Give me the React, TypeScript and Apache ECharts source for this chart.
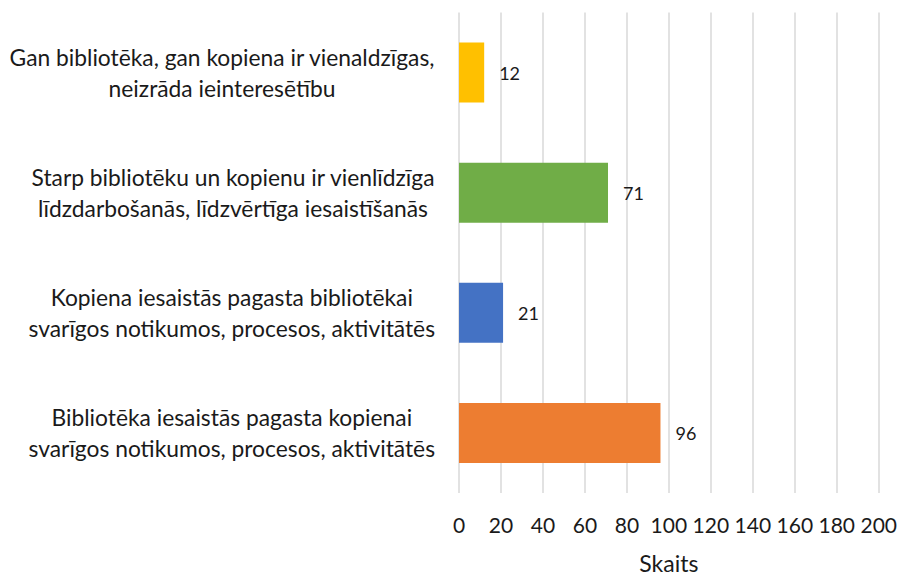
import React, { useEffect, useRef } from "react";
import * as echarts from "echarts";

const categories = [
  "Bibliotēka iesaistās pagasta kopienai\nsvarīgos notikumos, procesos, aktivitātēs",
  "Kopiena iesaistās pagasta bibliotēkai\nsvarīgos notikumos, procesos, aktivitātēs",
  "Starp bibliotēku un kopienu ir vienlīdzīga\nlīdzdarbošanās, līdzvērtīga iesaistīšanās",
  "Gan bibliotēka, gan kopiena ir vienaldzīgas,\nneizrāda ieinteresētību",
];
const values = [96, 21, 71, 12];
const colors = ["#ED7D31", "#4472C4", "#70AD47", "#FFC000"];
const xTicks = { min: 0, max: 200, interval: 20 };
const axisName = "Skaits";

const FONT = "Lato";

export default function App() {
  const ref = useRef<HTMLDivElement>(null);
  useEffect(() => {
    if (!ref.current) return;
    const chart = echarts.init(ref.current, null, { renderer: "svg" });
    chart.setOption({
      animation: false,
      backgroundColor: "#ffffff",
      grid: { left: 459, right: 19, top: 12.5, bottom: 79.5, containLabel: false },
      xAxis: {
        type: "value",
        min: xTicks.min,
        max: xTicks.max,
        interval: xTicks.interval,
        axisLine: { show: false },
        axisTick: { show: false },
        splitLine: { show: true, lineStyle: { color: "#D9D9D9", width: 1.5 } },
        axisLabel: { fontFamily: FONT, fontSize: 21, color: "#1a1a1a", margin: 21 },
        name: axisName,
        nameLocation: "middle",
        nameGap: 58,
        nameTextStyle: { fontFamily: FONT, fontSize: 23, color: "#1a1a1a" },
      },
      yAxis: {
        type: "category",
        data: categories,
        axisLine: { show: false },
        axisTick: { show: false },
        splitLine: { show: false },
        axisLabel: {
          margin: 24,
          formatter: (v: string) =>
            v
              .split("\n")
              .map((l) => `{c|${l}}`)
              .join("\n"),
          rich: {
            c: { fontFamily: FONT, fontSize: 22.8, lineHeight: 31, color: "#1a1a1a", align: "center" },
          },
        },
      },
      series: [
        {
          type: "bar",
          data: values.map((v, i) => ({ value: v, itemStyle: { color: colors[i] } })),
          barWidth: "50%",
          label: {
            show: true,
            position: "right",
            distance: 15,
            fontFamily: FONT,
            fontSize: 18,
            color: "#1a1a1a",
          },
        },
      ],
    });
    return () => chart.dispose();
  }, []);
  return <div ref={ref} style={{ width: 900, height: 579, position: "absolute", left: 0, top: 0 }} />;
}
